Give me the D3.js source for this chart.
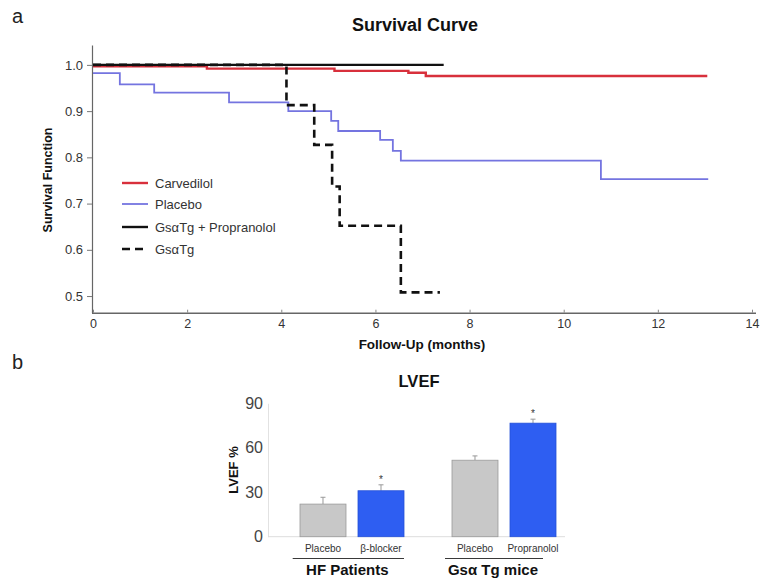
<!DOCTYPE html>
<html>
<head>
<meta charset="utf-8">
<script src="https://cdn.jsdelivr.net/npm/d3@7"></script>
<style>
  html, body { margin: 0; padding: 0; background: #fff; }
  svg { display: block; font-family: "Liberation Sans", Arial, sans-serif; }
</style>
</head>
<body>
<svg id="chart" width="763" height="580"></svg>
<script>
// ---------- Data: survival curves ----------
const carvedilolTime = [0, 2.42, 5.13, 6.70, 7.07, 13.05];
const carvedilolSurv = [0.997, 0.992, 0.987, 0.983, 0.976, 0.976];

const placeboTime = [0, 0.57, 1.30, 2.89, 4.15, 5.06, 5.21, 6.10, 6.37, 6.54, 10.79, 13.07];
const placeboSurv = [0.982, 0.958, 0.940, 0.919, 0.900, 0.879, 0.857, 0.838, 0.814, 0.793, 0.753, 0.753];

const gsPropTime = [0, 7.45];
const gsPropSurv = [1.0, 1.0];

const gsTime = [0, 4.11, 4.70, 5.08, 5.24, 6.54, 7.37];
const gsSurv = [1.0, 0.913, 0.827, 0.737, 0.652, 0.508, 0.508];

const survXTicks = [0, 2, 4, 6, 8, 10, 12, 14];
const survYTicks = [0.5, 0.6, 0.7, 0.8, 0.9, 1.0];
const legendLabels = ["Carvedilol", "Placebo", "Gs\u03B1Tg + Propranolol", "Gs\u03B1Tg"];

// ---------- Data: LVEF bars ----------
const groups = ["HF Patients", "Gs\u03B1 Tg mice"];
const barLabels = [["Placebo", "\u03B2-blocker"], ["Placebo", "Propranolol"]];
const lvefValues = [[22, 31], [51.6, 76.6]];
const lvefErrors = [[4.6, 4.0], [2.9, 2.7]];
const lvefSignificant = [[false, true], [false, true]];
const lvefTicks = [0, 30, 60, 90];

// ---------- Drawing ----------
const svg = d3.select("#chart");

// Panel labels
svg.append("text").attr("x", 12).attr("y", 23).attr("font-size", 20).attr("fill", "#222").text("a");
svg.append("text").attr("x", 12).attr("y", 369).attr("font-size", 20).attr("fill", "#222").text("b");

// ===== Panel a =====
const x = d3.scaleLinear().domain([0, 14]).range([93, 752]);
const y = d3.scaleLinear().domain([0.464, 1.043]).range([312.7, 45]);

svg.append("text").attr("x", 415).attr("y", 31).attr("text-anchor", "middle")
  .attr("font-size", 18).attr("font-weight", "bold").attr("fill", "#111").text("Survival Curve");

const xAxis = svg.append("g").attr("transform", `translate(0,${y(0.464)})`)
  .call(d3.axisBottom(x).tickValues(survXTicks).tickFormat(d3.format("d")).tickSize(-3).tickSizeOuter(0).tickPadding(6));
xAxis.select(".domain").attr("d", `M92,0.5H756`).attr("stroke", "#666").attr("stroke-width", 1.5);
xAxis.selectAll(".tick line").attr("stroke", "#888");
xAxis.selectAll(".tick text").attr("font-size", 12.5).attr("fill", "#333");

const yAxis = svg.append("g").attr("transform", `translate(92,0)`)
  .call(d3.axisLeft(y).tickValues(survYTicks).tickFormat(d3.format(".1f")).tickSize(5).tickSizeOuter(0).tickPadding(4));
yAxis.select(".domain").attr("stroke", "#666").attr("stroke-width", 1.2);
yAxis.selectAll(".tick line").attr("stroke", "#777");
yAxis.selectAll(".tick text").attr("font-size", 13).attr("fill", "#333");

svg.append("text").attr("transform", `translate(52,180) rotate(-90)`).attr("text-anchor", "middle")
  .attr("font-size", 12.5).attr("font-weight", "bold").attr("fill", "#111").text("Survival Function");
svg.append("text").attr("x", 422).attr("y", 349).attr("text-anchor", "middle")
  .attr("font-size", 13.5).attr("font-weight", "bold").attr("fill", "#111").text("Follow-Up (months)");

const step = d3.line().curve(d3.curveStepAfter).x(d => x(d[0])).y(d => y(d[1]));
const zip = (t, s) => t.map((v, i) => [v, s[i]]);

const series = [
  { t: carvedilolTime, s: carvedilolSurv, color: "#d8303c", w: 2.4, dash: null },
  { t: placeboTime, s: placeboSurv, color: "#7474e0", w: 1.8, dash: null },
  { t: gsPropTime, s: gsPropSurv, color: "#111", w: 2.4, dash: null },
  { t: gsTime, s: gsSurv, color: "#111", w: 2.6, dash: "8,5" }
];
series.forEach(sr => {
  svg.append("path").datum(zip(sr.t, sr.s)).attr("d", step)
    .attr("fill", "none").attr("stroke", sr.color).attr("stroke-width", sr.w)
    .attr("stroke-dasharray", sr.dash);
});

// Legend
const legY = [183, 204, 227, 249];
series.forEach((sr, i) => {
  svg.append("line").attr("x1", 122).attr("x2", 148).attr("y1", legY[i]).attr("y2", legY[i])
    .attr("stroke", sr.color).attr("stroke-width", sr.w).attr("stroke-dasharray", sr.dash);
  svg.append("text").attr("x", 155).attr("y", legY[i] + 4.5).attr("font-size", 13).attr("fill", "#333")
    .text(legendLabels[i]);
});

// ===== Panel b =====
const yb = d3.scaleLinear().domain([0, 90]).range([536.7, 403.3]);
const xg = d3.scaleBand().domain(groups).range([276, 580]).padding(0);
const xi = d3.scaleBand().domain([0, 1]).range([24, 128]).paddingInner(0.207).paddingOuter(0);

svg.append("text").attr("x", 419).attr("y", 387).attr("text-anchor", "middle")
  .attr("font-size", 16.5).attr("font-weight", "bold").attr("fill", "#111").text("LVEF");

const ybAxis = svg.append("g").attr("transform", "translate(268,0)")
  .call(d3.axisLeft(yb).tickValues(lvefTicks).tickSize(0).tickSizeOuter(0).tickPadding(5));
ybAxis.select(".domain").attr("stroke", "#e2e2e2");
ybAxis.selectAll(".tick text").attr("font-size", 16).attr("fill", "#444");

svg.append("line").attr("x1", 268).attr("x2", 565).attr("y1", yb(0)).attr("y2", yb(0))
  .attr("stroke", "#ddd").attr("stroke-width", 1);

svg.append("text").attr("transform", "translate(238,470) rotate(-90)").attr("text-anchor", "middle")
  .attr("font-size", 13).attr("font-weight", "bold").attr("fill", "#111").text("LVEF %");

const barFill = ["#c8c8c8", "#2e5ef2"];
const barStroke = ["#9a9a9a", "#2450d8"];

groups.forEach((g, gi) => {
  const gx = xg(g);
  [0, 1].forEach(bi => {
    const bx = gx + xi(bi), bw = xi.bandwidth();
    const v = lvefValues[gi][bi], e = lvefErrors[gi][bi];
    const cx = bx + bw / 2;
    svg.append("line").attr("x1", cx).attr("x2", cx).attr("y1", yb(v)).attr("y2", yb(v + e))
      .attr("stroke", "#999").attr("stroke-width", 1);
    svg.append("line").attr("x1", cx - 2.5).attr("x2", cx + 2.5).attr("y1", yb(v + e)).attr("y2", yb(v + e))
      .attr("stroke", "#999").attr("stroke-width", 1);
    svg.append("rect").attr("x", bx).attr("y", yb(v)).attr("width", bw).attr("height", yb(0) - yb(v))
      .attr("fill", barFill[bi]).attr("stroke", barStroke[bi]).attr("stroke-width", 0.8);
    if (lvefSignificant[gi][bi]) {
      svg.append("text").attr("x", cx).attr("y", yb(v + e) - 2).attr("text-anchor", "middle")
        .attr("font-size", 10).attr("fill", "#333").text("*");
    }
    svg.append("text").attr("x", cx).attr("y", 552).attr("text-anchor", "middle")
      .attr("font-size", 10).attr("fill", "#333").text(barLabels[gi][bi]);
  });
});

const underline = [[292.7, 404], [445, 543]];
groups.forEach((g, gi) => {
  svg.append("line").attr("x1", underline[gi][0]).attr("x2", underline[gi][1]).attr("y1", 558.5).attr("y2", 558.5)
    .attr("stroke", "#222").attr("stroke-width", 0.9);
  svg.append("text").attr("x", (underline[gi][0] + underline[gi][1]) / 2 - 1).attr("y", 575).attr("text-anchor", "middle")
    .attr("font-size", 15).attr("font-weight", "bold").attr("fill", "#111").text(g);
});
</script>
</body>
</html>
